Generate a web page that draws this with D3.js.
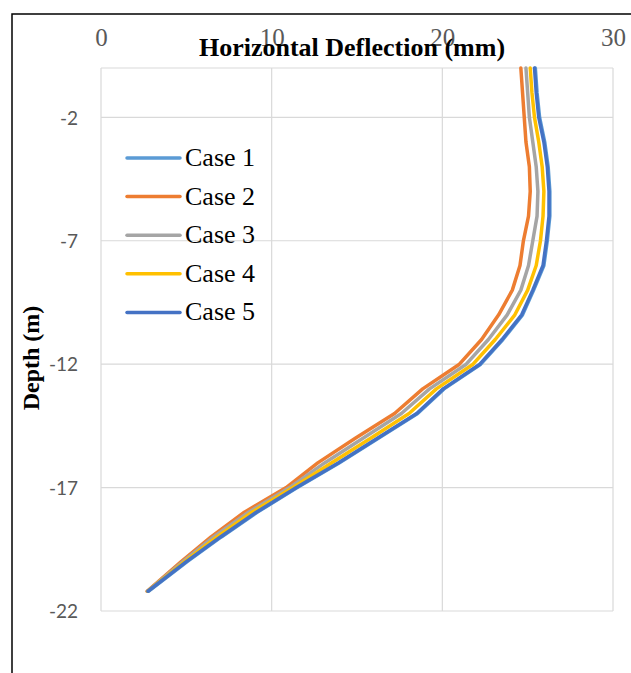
<!DOCTYPE html>
<html><head><meta charset="utf-8">
<script src="https://cdn.jsdelivr.net/npm/d3@7"></script>
<style>body{margin:0;background:#fff}svg{display:block}</style>
</head><body>
<svg id="c" width="631" height="673"></svg>
<script>
const depths = [0,-1,-2,-3,-4,-5,-6,-7,-8,-9,-10,-11,-12,-13,-14,-15,-16,-17,-18,-19,-20,-21.2];
const case1 = [25.45,25.55,25.7,26.0,26.2,26.3,26.3,26.15,25.95,25.35,24.7,23.55,22.25,20.1,18.55,16.25,13.95,11.5,9.15,7.05,5.05,2.78];
const case2 = [24.6,24.7,24.8,24.9,25.1,25.15,25.05,24.75,24.55,24.1,23.3,22.3,21.0,18.85,17.2,14.9,12.7,10.85,8.4,6.45,4.7,2.7];
const case3 = [24.9,25.0,25.1,25.3,25.5,25.6,25.55,25.3,25.05,24.6,23.8,22.7,21.4,19.25,17.6,15.35,13.1,11.05,8.65,6.6,4.8,2.72];
const case4 = [25.15,25.25,25.4,25.65,25.85,25.95,25.9,25.75,25.5,25.0,24.25,23.1,21.8,19.65,18.05,15.8,13.5,11.25,8.85,6.8,4.9,2.73];
const case5 = [25.4,25.5,25.65,25.95,26.15,26.25,26.25,26.1,25.9,25.3,24.65,23.5,22.2,20.05,18.5,16.2,13.9,11.45,9.1,7.0,5.0,2.75];
const seriesNames = ["Case 1","Case 2","Case 3","Case 4","Case 5"];
const seriesColors = ["#5B9BD5","#ED7D31","#A5A5A5","#FFC000","#4472C4"];
const xTicks = [0,10,20,30];
const yTicks = [-2,-7,-12,-17,-22];
const xTitle = "Horizontal Deflection (mm)";
const yTitle = "Depth (m)";

const svg = d3.select("#c");
const L = 101, R = 613, T = 68, B = 611;
const x = d3.scaleLinear().domain([0,30]).range([L,R]);
const y = d3.scaleLinear().domain([-22,0]).range([B,T]);

// outer chart border
svg.append("rect").attr("x",12).attr("y",14).attr("width",660).attr("height",700)
  .attr("fill","none").attr("stroke","#000").attr("stroke-width",1.5);

// gridlines
const g = svg.append("g");
g.selectAll(".vg").data(xTicks).join("line")
  .attr("x1",d=>x(d)).attr("x2",d=>x(d)).attr("y1",T).attr("y2",B)
  .attr("stroke","#D9D9D9").attr("stroke-width",1.2);
g.selectAll(".hg").data(yTicks.concat([0])).join("line")
  .attr("x1",L).attr("x2",R).attr("y1",d=>y(d)).attr("y2",d=>y(d))
  .attr("stroke","#D9D9D9").attr("stroke-width",1.2);

// x axis at top (labels only)
const xa = svg.append("g").attr("transform",`translate(0,${T-19})`)
  .call(d3.axisTop(x).tickValues(xTicks).tickSize(0).tickFormat(d=>String(d)));
xa.select(".domain").remove();
xa.selectAll("text").attr("font-family","'Liberation Serif','Times New Roman',serif")
  .attr("font-size",25).attr("fill","#595959");

// y axis labels
const ya = svg.append("g").attr("transform",`translate(${L-20},0)`)
  .call(d3.axisLeft(y).tickValues(yTicks).tickSize(0).tickFormat(d=>String(d)));
ya.select(".domain").remove();
ya.selectAll("text").attr("font-family","Lato,'Liberation Sans',sans-serif")
  .attr("font-size",19).attr("fill","#595959").attr("dy","0.35em");

// series
const all = [case1,case2,case3,case4,case5];
const line = d3.line().x(d=>x(d[0])).y(d=>y(d[1]));
all.forEach((vals,i)=>{
  svg.append("path").datum(vals.map((v,j)=>[v,depths[j]]))
    .attr("d",line).attr("fill","none").attr("stroke",seriesColors[i])
    .attr("stroke-width",3.5).attr("stroke-linejoin","round").attr("stroke-linecap","round");
});

// titles
svg.append("text").attr("x",352).attr("y",56).attr("text-anchor","middle")
  .attr("font-family","'Liberation Serif','Times New Roman',serif").attr("font-weight","bold")
  .attr("font-size",26).attr("fill","#000").text(xTitle);
svg.append("text").attr("transform","translate(39,358) rotate(-90)").attr("text-anchor","middle")
  .attr("font-family","'Liberation Serif','Times New Roman',serif").attr("font-weight","bold")
  .attr("font-size",24).attr("fill","#000").text(yTitle);

// legend
const lg = svg.append("g");
seriesNames.forEach((n,i)=>{
  const yy = 158 + i*38.6;
  lg.append("line").attr("x1",127).attr("x2",180).attr("y1",yy).attr("y2",yy)
    .attr("stroke",seriesColors[i]).attr("stroke-width",3.5).attr("stroke-linecap","round");
  lg.append("text").attr("x",185).attr("y",yy+8).attr("font-family","'Liberation Serif','Times New Roman',serif")
    .attr("font-size",26).attr("fill","#000").text(n);
});
</script>
</body></html>
